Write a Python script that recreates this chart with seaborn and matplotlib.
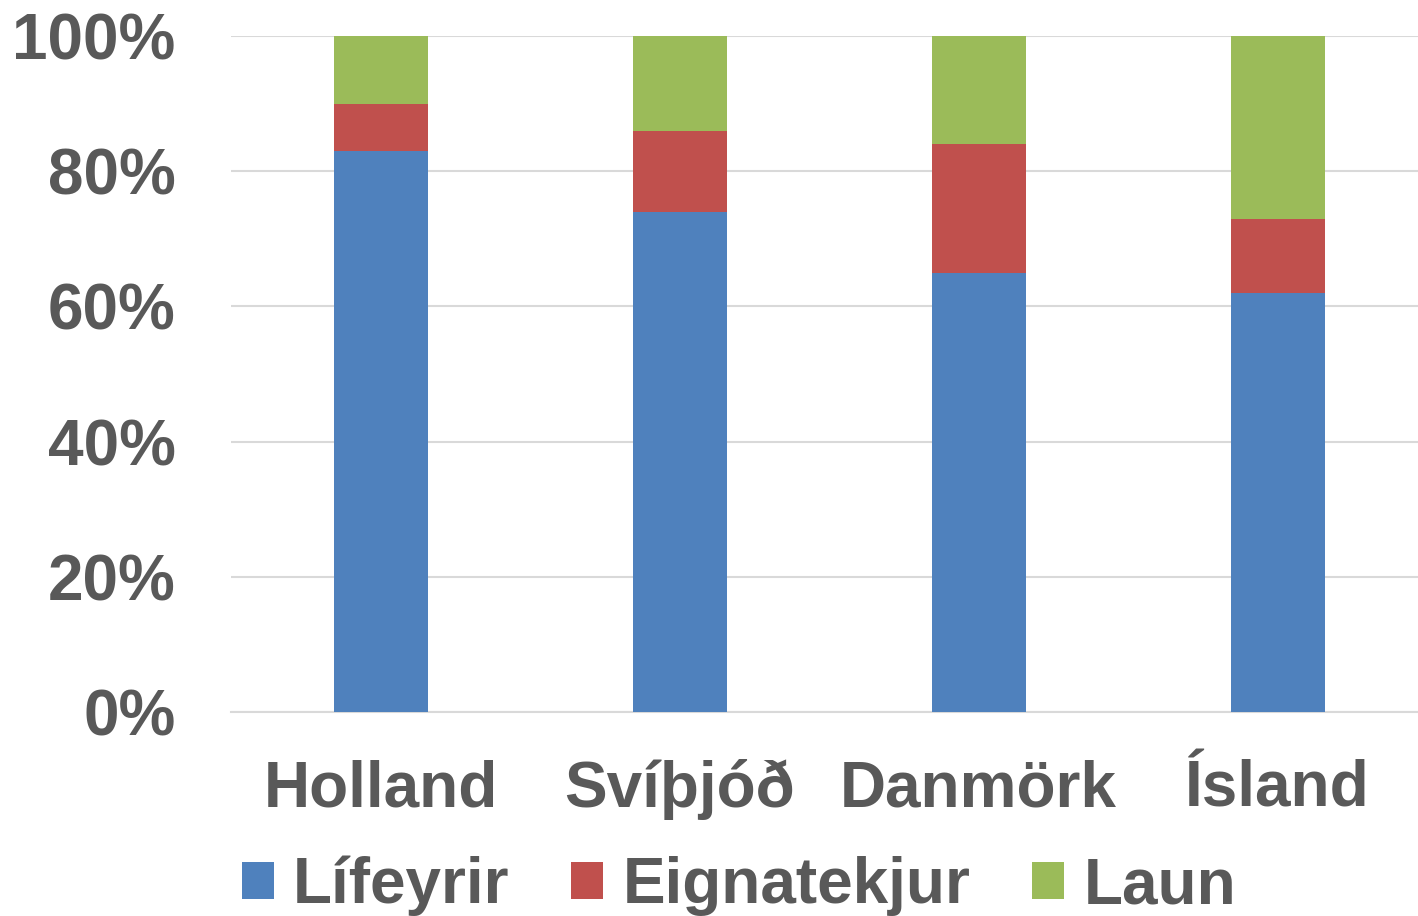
import matplotlib
matplotlib.use("Agg")
import matplotlib.pyplot as plt
import seaborn as sns
import pandas as pd
import numpy as np
from matplotlib.patches import Patch
from matplotlib.ticker import PercentFormatter

countries = ["Holland", "Svíþjóð", "Danmörk", "Ísland"]
lifeyrir = [83, 74, 65, 62]
eignatekjur = [7, 12, 19, 11]
laun = [10, 14, 16, 27]
series_names = ["Lífeyrir", "Eignatekjur", "Laun"]
colors = ["#4F81BD", "#C0504D", "#9BBB59"]

sns.set_theme(style="white")
plt.rcParams["font.family"] = ["Liberation Sans", "DejaVu Sans"]
plt.rcParams["font.weight"] = "bold"
text_color = "#595959"

df = pd.DataFrame({"country": countries, "Lífeyrir": lifeyrir,
                   "Eignatekjur": eignatekjur, "Laun": laun})
df["c1"] = df["Lífeyrir"]
df["c2"] = df["c1"] + df["Eignatekjur"]
df["c3"] = df["c2"] + df["Laun"]

fig = plt.figure(figsize=(14.18, 9.16), dpi=100)
ax = fig.add_axes([231/1418, 1 - 712/916, 1 - 231/1418, (712 - 36)/916])

bw = 94/299
for col, c in zip(["c3", "c2", "c1"], colors[::-1]):
    sns.barplot(data=df, x="country", y=col, color=c, width=bw,
                saturation=1, ax=ax, zorder=3, linewidth=0)

ax.set_xlim(-0.5, -0.5 + (1418 - 231)/299)
ax.set_ylim(0, 100)
ax.set_yticks([0, 20, 40, 60, 80, 100])
ax.yaxis.set_major_formatter(PercentFormatter(decimals=0))
ax.grid(axis="y", color="#D9D9D9", linewidth=1.5, zorder=0)
ax.set_axisbelow(True)
for s in ["top", "right", "left"]:
    ax.spines[s].set_visible(False)
ax.spines["bottom"].set_color("#D9D9D9")
ax.spines["bottom"].set_linewidth(1.5)
ax.set_xlabel("")
ax.set_ylabel("")
ax.tick_params(axis="y", length=0, pad=40, labelsize=46, labelcolor=text_color)
ax.tick_params(axis="x", length=0, pad=34, labelsize=46, labelcolor=text_color)
for lbl in ax.get_xticklabels() + ax.get_yticklabels():
    lbl.set_fontweight("bold")

handles = [Patch(facecolor=c, edgecolor="none", label=n) for c, n in zip(colors, series_names)]
leg = fig.legend(handles=handles, loc="center", bbox_to_anchor=(739/1418, 1 - 886/916),
                 ncol=3, frameon=False, fontsize=46, handlelength=0.5, handleheight=0.52,
                 handletextpad=0.3, columnspacing=0.97, borderpad=0)
for t in leg.get_texts():
    t.set_color(text_color)
    t.set_fontweight("bold")

fig.savefig("out.png", dpi=100)
